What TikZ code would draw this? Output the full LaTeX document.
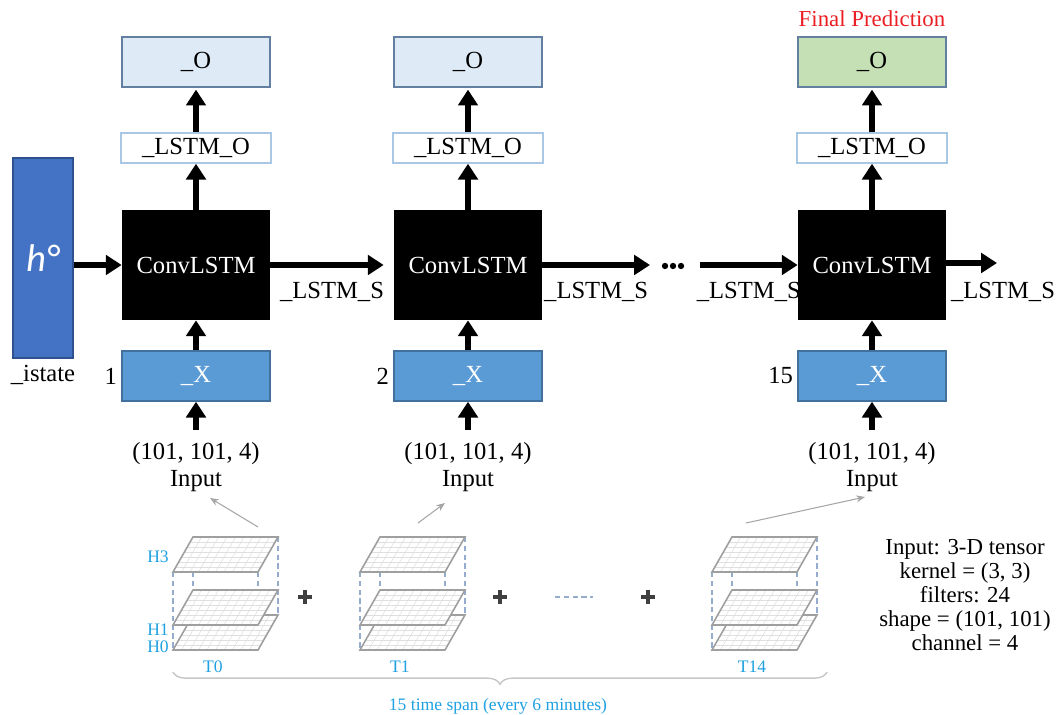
\documentclass[tikz,border=0pt]{standalone}
\usepackage{fontspec}
\setmainfont{Liberation Serif}
\newfontfamily\calibfont{Carlito}
\usetikzlibrary{arrows.meta, positioning, calc, decorations.pathreplacing}

\definecolor{hblue}{RGB}{68,114,196}
\definecolor{hborder}{RGB}{47,82,143}
\definecolor{xblue}{RGB}{91,155,213}
\definecolor{xborder}{RGB}{65,113,156}
\definecolor{oblue}{RGB}{222,235,247}
\definecolor{oborder}{RGB}{100,128,160}
\definecolor{ogreen}{RGB}{197,224,180}
\definecolor{lborder}{RGB}{170,200,228}
\definecolor{tblue}{RGB}{30,160,225}
\definecolor{dashblue}{RGB}{150,172,205}
\definecolor{predred}{RGB}{235,30,35}

\tikzset{
	bigarrow/.style={line width=3pt, -{Triangle[length=9pt,width=11pt]}},
	thinarrow/.style={gray!70, line width=0.6pt, -{Stealth[length=5pt,width=4pt]}},
	txt/.style={font=\fontsize{14}{15}\selectfont},
	convbox/.style={fill=black, text=white, minimum width=2.96cm, minimum height=2.2cm, inner sep=0pt, txt},
	lstmo/.style={draw=lborder, line width=0.8pt, fill=white, minimum width=3cm, minimum height=0.6cm, inner sep=0pt, txt},
	outbox/.style={draw=oborder, line width=1pt, minimum width=2.96cm, minimum height=1cm, inner sep=0pt, txt},
	xbox/.style={draw=xborder, line width=0.8pt, fill=xblue, text=white, minimum width=2.96cm, minimum height=1cm, inner sep=0pt, txt},
	tlabel/.style={text=tblue, font=\fontsize{10}{12}\selectfont},
}

\begin{document}
\begin{tikzpicture}[x=0.02cm, y=-0.02cm]
	\useasboundingbox (0,0) rectangle (1062,715);

	% initial state
	\node[draw=hborder, fill=hblue, line width=0.8pt, minimum width=1.2cm, minimum height=4cm, inner sep=0pt] (h0) at (43,258)
		{\calibfont\itshape\fontsize{22}{24}\selectfont\color{white}h°};
	\node[txt, below=0pt of h0] (h0lab) {\_istate};

	% time steps
	\foreach \i/\cx/\num/\ofill in {1/196/1/oblue, 2/468/2/oblue, 3/872/15/ogreen}
	{
		\node[convbox] (conv\i) at (\cx,265) {ConvLSTM};
		\node[lstmo] (lo\i) at (\cx,148) {\_LSTM\_O};
		\node[outbox, fill=\ofill] (out\i) at (\cx,62) {\_O};
		\node[xbox] (x\i) at (\cx,376) {\_X};
		\node[txt, align=center] (in\i) at (\cx,467) {(101, 101, 4)\\Input};
		\node[txt, left=-1pt of x\i] (num\i) {\num};

		\draw[bigarrow] ($(in\i.north)+(0,-6)$) -- (x\i.south);
		\draw[bigarrow] (x\i) -- (conv\i);
		\draw[bigarrow] (conv\i) -- (lo\i);
		\draw[bigarrow, shorten >=1pt] (lo\i) -- (out\i);
	}
	\node[txt, text=predred, font=\fontsize{13}{14}\selectfont, above=2pt of out3] (final) {Final Prediction};

	% state passing
	\coordinate (dotsL) at (650,265);
	\coordinate (dotsR) at (700,265);
	\coordinate (fin) at (997,263);
	\draw[bigarrow] (h0.east |- conv1.west) -- (conv1.west);
	\draw[bigarrow, shorten >=0.2cm] (conv1) -- (conv2) node[midway, below=5pt, txt] {\_LSTM\_S};
	\draw[bigarrow] (conv2.east) -- (dotsL) node[midway, below=5pt, txt] {\_LSTM\_S};
	\foreach \d in {665,673,681}
	{
		\fill (\d,266) circle (1.8pt);
	}
	\draw[bigarrow] (dotsR) -- (conv3.west) node[midway, below=5pt, txt] {\_LSTM\_S};
	\draw[bigarrow] (conv3.east |- fin) -- (fin);
	\node[txt] (slast) at (1003,292) {\_LSTM\_S};

	% input tensors
	\foreach \cx/\tl in {173/T0, 360/T1, 712/T14}
	{
		\draw[dashblue, densely dashed, line width=0.6pt] (\cx,572) -- (\cx,650) (\cx+85,572) -- (\cx+85,650)
			(\cx+20,537) -- (\cx+20,615) (\cx+105,537) -- (\cx+105,615);
		\foreach \py in {650,625,572}
		{
			\fill[white] (\cx,\py) -- ++(85,0) -- ++(20,-35) -- ++(-85,0) -- cycle;
			\foreach \k in {1,...,9}
				\draw[gray!25, line width=0.3pt] ({\cx+\k*8.5},\py) -- ++(20,-35);
			\foreach \k in {1,...,6}
				\draw[gray!25, line width=0.3pt] ({\cx+\k*20/7},{\py-\k*5}) -- ++(85,0);
			\draw[gray!75, line width=0.9pt] (\cx,\py) -- ++(85,0) -- ++(20,-35) -- ++(-85,0) -- cycle;
		}
		\node[tlabel] at (\cx+40,667) {\tl};
	}
	\node[tlabel] (hthree) at (158,557) {H3};
	\node[tlabel] (hone) at (158,630) {H1};
	\node[tlabel] (hzero) at (158,647) {H0};

	\foreach \px in {305,500,648}
	{
		\draw[gray!50!black, line width=2.2pt] (\px-7,597) -- (\px+7,597);
		\draw[gray!50!black, line width=1.8pt] (\px,590) -- (\px,604);
	}
	\draw[dashblue, densely dashed, line width=0.8pt] (555,597) -- (593,597);

	% tensors to inputs
	\coordinate (t1) at (258,527);
	\coordinate (t2) at (418,523);
	\coordinate (t3) at (746,523);
	\coordinate (a1) at (210,498);
	\coordinate (a2) at (445,503);
	\coordinate (a3) at (865,497);
	\draw[thinarrow] (t1) -- (a1);
	\draw[thinarrow] (t2) -- (a2);
	\draw[thinarrow] (t3) -- (a3);

	\draw[gray!45, line width=0.8pt, decorate, decoration={brace, mirror, amplitude=7pt}] (173,672) -- (827,672);
	\node[tlabel] (span) at (498,706) {15 time span (every 6 minutes)};

	\node[align=center, font=\fontsize{13}{13.6}\selectfont] (spec) at (965,595)
		{Input: 3-D tensor\\kernel = (3, 3)\\filters: 24\\shape = (101, 101)\\channel = 4};
\end{tikzpicture}
\end{document}
